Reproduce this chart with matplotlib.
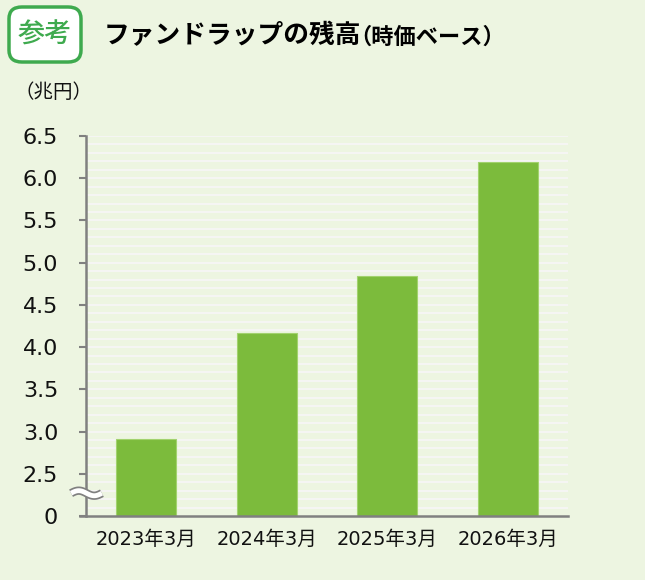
import numpy as np
import matplotlib.pyplot as plt
from matplotlib.patches import FancyBboxPatch, Rectangle
import matplotlib.transforms as mtransforms

plt.rcParams['font.family'] = ['Noto Sans CJK JP', 'DejaVu Sans']

# data (trillion yen)
categories = ['2023年3月', '2024年3月', '2025年3月', '2026年3月']
values = [2.91, 4.17, 4.84, 6.19]
ytick_vals = [2.0, 2.5, 3.0, 3.5, 4.0, 4.5, 5.0, 5.5, 6.0, 6.5]
ytick_labels = ['0', '2.5', '3.0', '3.5', '4.0', '4.5', '5.0', '5.5', '6.0', '6.5']
base = 2.0  # axis is broken: "0" sits where 2.0 would be

bg = '#EDF5E1'
bar_color = '#7CBB3C'
green = '#3EAA4E'
num_font = ['DejaVu Sans', 'Noto Sans CJK JP']

fig = plt.figure(figsize=(6.45, 5.86), dpi=100, facecolor=bg)
ax = fig.add_axes([86/645, 70/586, 482/645, 380/586])
ax.set_facecolor(bg)

# fine light grid every 0.1
for g in np.arange(2.1, 6.51, 0.1):
    ax.axhline(g, color='#F5F5F3', lw=1.5, zorder=0)

x = np.arange(len(categories))
ax.bar(x, [v - base for v in values], bottom=base, width=0.5,
       color=bar_color, edgecolor='#A2D26E', linewidth=0.8, zorder=2)

ax.set_xlim(-0.5, 3.5)
ax.set_ylim(2.0, 6.5)
ax.set_yticks(ytick_vals)
ax.set_yticklabels(ytick_labels, fontsize=16, color='#111111', family=num_font)
ax.set_xticks(x)
ax.set_xticklabels(categories, fontsize=14, color='#111111', family=num_font)
ax.tick_params(axis='y', length=5, width=1.5, color='#808080', pad=15)
ax.tick_params(axis='x', length=0, pad=10)

for s in ['top', 'right']:
    ax.spines[s].set_visible(False)
for s in ['left', 'bottom']:
    ax.spines[s].set_color('#808080')
    ax.spines[s].set_linewidth(1.8)
ax.spines['bottom'].set_bounds(-0.55, 3.5)

# wavy break mark on the y axis
trans = mtransforms.blended_transform_factory(ax.transAxes, ax.transData)
wx = np.linspace(-0.031, 0.033, 60)
wy = 2.27 + 0.03 * np.sin((wx + 0.031) / 0.064 * 2 * np.pi)
ax.plot(wx, wy, color='#808080', lw=6, transform=trans, clip_on=False,
        zorder=5, solid_capstyle='butt')
ax.plot(wx, wy, color='white', lw=3.5, transform=trans, clip_on=False,
        zorder=6, solid_capstyle='butt')

# "参考" badge
badge = FancyBboxPatch((9/645, 1 - 62/586), 72/645, 55/586,
                       boxstyle='round,pad=0,rounding_size=0.02',
                       transform=fig.transFigure, facecolor='white',
                       edgecolor=green, linewidth=2.5)
fig.patches.append(badge)
fig.text(45/645, 1 - 35/586, '参考', fontsize=19.5, color=green,
         ha='center', va='center', fontweight='medium')

fig.text(104/645, 1 - 36/586, 'ファンドラップの残高', fontsize=18.5,
         fontweight='bold', ha='left', va='center', color='black')
fig.text(349/645, 1 - 37/586, '（時価ベース）', fontsize=16,
         fontweight='bold', ha='left', va='center', color='black')
fig.text(14/645, 1 - 92/586, '（兆円）', fontsize=14, ha='left',
         va='center', color='#111111')

# white strip at the very bottom
fig.patches.append(Rectangle((0, 0), 1, 6/586, transform=fig.transFigure,
                             facecolor='white', edgecolor='none'))

fig.savefig('out.png', dpi=100, facecolor=bg)
